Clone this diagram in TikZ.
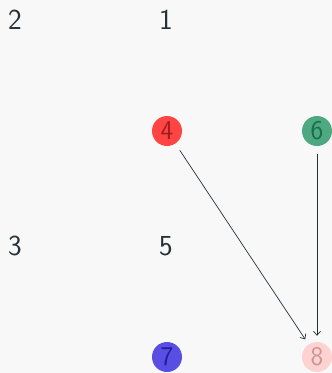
\documentclass[tikz,border=0pt]{standalone}
\usepackage{tikz}
\usetikzlibrary{positioning,arrows.meta}
\definecolor{ink}{HTML}{263238}
\definecolor{paper}{HTML}{F8F8F8}
\tikzset{label/.style={text=ink,font=\sffamily\fontsize{29}{30}\selectfont,inner sep=0pt}}
\tikzset{dot/.style={circle,minimum size=30pt,inner sep=0pt,font=\sffamily\fontsize{27}{28}\selectfont}}
\tikzset{arista/.style={draw=ink,line width=0.7pt,-{Straight Barb[length=4pt,width=7pt]},shorten <=8pt,shorten >=6pt}}

\begin{document}
\begin{tikzpicture}[x=1pt,y=-1pt]
            \fill[paper] (0,0) rectangle (332,373);
            \useasboundingbox (0,0) rectangle (332,373);

            \node[label] (2) at (15,20)  {2};
            \node[label] (1) at (166,20) {1};
            \node[label] (3) at (15,246) {3};
            \node[label] (5) at (166,246) {5};

            \node[dot,fill={rgb,255:red,255;green,68;blue,68},text={rgb,255:red,165;green,30;blue,30}] (4) at (167,131) {4};
            \node[dot,fill={rgb,255:red,78;green,168;blue,128},text={rgb,255:red,28;green,110;blue,78}] (6) at (317,131) {6};
            \node[dot,fill={rgb,255:red,88;green,78;blue,228},text={rgb,255:red,36;green,28;blue,150}] (7) at (167,357) {7};
            \node[dot,fill={rgb,255:red,255;green,210;blue,210},text={rgb,255:red,205;green,150;blue,150}] (8) at (317,357) {8};

            \draw[arista] (4) to (8);
            \draw[arista] (6) to (8);
        \end{tikzpicture}
\end{document}
